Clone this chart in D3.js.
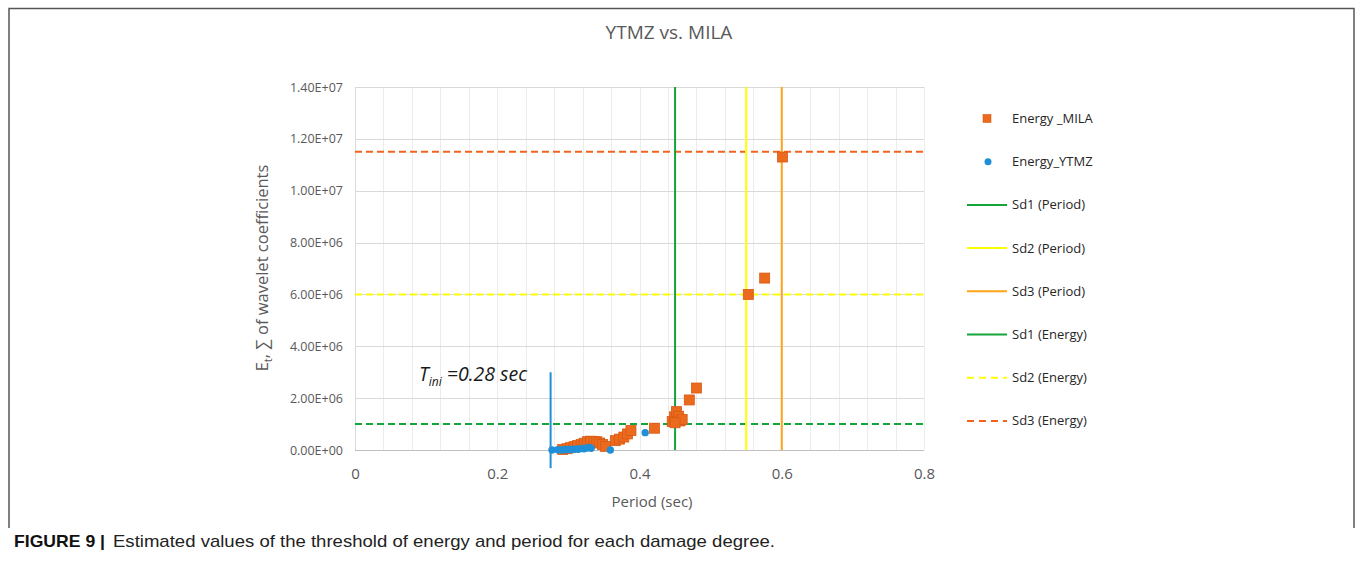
<!DOCTYPE html>
<html>
<head>
<meta charset="utf-8">
<script src="https://cdn.jsdelivr.net/npm/d3@7"></script>
<style>
  body { margin: 0; background: #fff; }
  svg { display: block; font-family: "Open Sans", sans-serif; }
  .grid line { shape-rendering: crispEdges; }
  .tick text { fill: #595959; }
</style>
</head>
<body>
<svg width="1355" height="575"></svg>
<script>
// MILA energy points (period sec, energy)
const milaPeriod = [0.292, 0.298, 0.303, 0.308, 0.313, 0.318, 0.322, 0.327, 0.331, 0.336, 0.340, 0.344, 0.348, 0.352,
  0.366, 0.372, 0.378, 0.383, 0.388, 0.421,
  0.446, 0.449, 0.452, 0.455, 0.457, 0.460, 0.450,
  0.470, 0.480, 0.553, 0.576, 0.601];
const milaEnergy = [0.02e6, 0.05e6, 0.09e6, 0.13e6, 0.17e6, 0.21e6, 0.26e6, 0.32e6, 0.34e6, 0.33e6, 0.32e6, 0.27e6, 0.21e6, 0.14e6,
  0.36e6, 0.42e6, 0.50e6, 0.62e6, 0.75e6, 0.84e6,
  1.10e6, 1.28e6, 1.48e6, 1.30e6, 1.12e6, 1.18e6, 1.05e6,
  1.93e6, 2.39e6, 6.0e6, 6.63e6, 1.13e7];

// YTMZ energy points
const ytmzPeriod = [0.277, 0.285, 0.290, 0.294, 0.298, 0.302, 0.306, 0.310, 0.314, 0.318, 0.322, 0.326, 0.329, 0.332, 0.359, 0.408];
const ytmzEnergy = [0.0, 0.01e6, 0.0, 0.02e6, 0.01e6, 0.03e6, 0.02e6, 0.04e6, 0.03e6, 0.06e6, 0.05e6, 0.08e6, 0.10e6, 0.07e6, 0.0, 0.67e6];

// damage thresholds
const limitNames = ["Sd1", "Sd2", "Sd3"];
const periodLimits = [0.45, 0.55, 0.6];
const energyLimits = [1.0e6, 6.0e6, 1.15e7];
const periodColors = ["#14a53a", "#ffff00", "#ffa31a"];
const energyColors = ["#14a53a", "#ffff00", "#f2641e"];

const tIni = 0.275;
const tIniSpan = [-0.7e6, 3.0e6];

const xTicks = [0, 0.2, 0.4, 0.6, 0.8];
const yTicks = [0, 2e6, 4e6, 6e6, 8e6, 1e7, 1.2e7, 1.4e7];

const legendNames = ["Energy _MILA", "Energy_YTMZ", "Sd1 (Period)", "Sd2 (Period)", "Sd3 (Period)",
  "Sd1 (Energy)", "Sd2 (Energy)", "Sd3 (Energy)"];

const svg = d3.select("svg");
const plotLeft = 355, plotRight = 924, plotTop = 87, plotBottom = 450;

const x = d3.scaleLinear().domain([0, 0.8]).range([plotLeft, plotRight]);
const y = d3.scaleLinear().domain([0, 1.4e7]).range([plotBottom, plotTop]);

function fmtE(v) {
  const parts = v.toExponential(2).split("e");
  const n = +parts[1];
  return parts[0] + "E" + (n < 0 ? "-" : "+") + String(Math.abs(n)).padStart(2, "0");
}

// frame around figure
svg.append("path")
  .attr("d", "M9,528 V8.5 H1354 V528")
  .attr("fill", "none")
  .attr("stroke", "#555")
  .attr("stroke-width", 1.5);

// title
svg.append("text")
  .attr("x", 669).attr("y", 39)
  .attr("text-anchor", "middle")
  .attr("font-size", 19)
  .attr("fill", "#595959")
  .text("YTMZ vs. MILA");

// vertical grid
svg.append("g")
  .attr("class", "grid")
  .selectAll("line")
  .data(d3.range(1, 21).map(function (i) { return i * 0.04; }))
  .join("line")
  .attr("x1", function (d) { return Math.round(x(d)) + 0.5; })
  .attr("x2", function (d) { return Math.round(x(d)) + 0.5; })
  .attr("y1", plotTop).attr("y2", plotBottom)
  .attr("stroke", "#ececec");

// horizontal grid
svg.append("g")
  .attr("class", "grid")
  .selectAll("line")
  .data(yTicks)
  .join("line")
  .attr("x1", plotLeft).attr("x2", plotRight)
  .attr("y1", function (d) { return Math.round(y(d)) + 0.5; })
  .attr("y2", function (d) { return Math.round(y(d)) + 0.5; })
  .attr("stroke", function (d) { return d === 0 ? "#bfbfbf" : "#d9d9d9"; })
  .attr("stroke-width", 1.5);

// left axis line
svg.append("line")
  .attr("x1", plotLeft + 0.5).attr("x2", plotLeft + 0.5)
  .attr("y1", plotTop).attr("y2", plotBottom)
  .attr("stroke", "#d9d9d9");

// axes
const yAxis = svg.append("g")
  .attr("transform", "translate(" + plotLeft + ",0)")
  .call(d3.axisLeft(y).tickValues(yTicks).tickFormat(fmtE).tickSize(0).tickPadding(12));
yAxis.select(".domain").remove();
yAxis.selectAll("text").attr("font-size", 12.5).attr("font-family", "Open Sans");

const xAxis = svg.append("g")
  .attr("transform", "translate(0," + plotBottom + ")")
  .call(d3.axisBottom(x).tickValues(xTicks).tickFormat(function (d) { return String(+d.toFixed(1)); }).tickSize(0).tickPadding(18));
xAxis.select(".domain").remove();
xAxis.selectAll("text").attr("font-size", 15).attr("font-family", "Open Sans");

svg.append("text")
  .attr("x", 652).attr("y", 507)
  .attr("text-anchor", "middle")
  .attr("font-size", 15)
  .attr("fill", "#595959")
  .text("Period (sec)");

const yTitle = svg.append("text")
  .attr("transform", "translate(268,268) rotate(-90)")
  .attr("text-anchor", "middle")
  .attr("font-size", 16.5)
  .attr("fill", "#595959");
yTitle.append("tspan").text("E");
yTitle.append("tspan").attr("font-size", 11).attr("dy", 4).text("t");
yTitle.append("tspan").attr("dy", -4).text(", \u2211 of wavelet coefficients");

// energy threshold lines (dashed)
svg.append("g")
  .selectAll("line")
  .data(energyLimits)
  .join("line")
  .attr("x1", plotLeft).attr("x2", plotRight)
  .attr("y1", function (d) { return y(d); })
  .attr("y2", function (d) { return y(d); })
  .attr("stroke", function (d, i) { return energyColors[i]; })
  .attr("stroke-width", 2)
  .attr("stroke-dasharray", "7,4");

// period threshold lines
svg.append("g")
  .selectAll("line")
  .data(periodLimits)
  .join("line")
  .attr("x1", function (d) { return x(d); })
  .attr("x2", function (d) { return x(d); })
  .attr("y1", plotTop).attr("y2", plotBottom)
  .attr("stroke", function (d, i) { return periodColors[i]; })
  .attr("stroke-width", 2);

// T_ini marker
svg.append("line")
  .attr("x1", x(tIni)).attr("x2", x(tIni))
  .attr("y1", y(tIniSpan[0])).attr("y2", y(tIniSpan[1]))
  .attr("stroke", "#1f8fd8")
  .attr("stroke-width", 2);

const tLabel = svg.append("text")
  .attr("x", 419).attr("y", 381)
  .attr("font-size", 19.5)
  .attr("font-style", "italic")
  .attr("fill", "#1a1a1a");
tLabel.append("tspan").text("T");
tLabel.append("tspan").attr("font-size", 12).attr("dy", 5).text("ini");
tLabel.append("tspan").attr("dy", -5).text(" =0.28 sec");

// MILA squares
svg.append("g")
  .selectAll("rect")
  .data(milaPeriod)
  .join("rect")
  .attr("x", function (d) { return x(d) - 5; })
  .attr("y", function (d, i) { return y(milaEnergy[i]) - 5; })
  .attr("width", 10).attr("height", 10)
  .attr("fill", "#ec6a1d")
  .attr("stroke", "#d85a14")
  .attr("stroke-width", 0.8);

// YTMZ circles
svg.append("g")
  .selectAll("circle")
  .data(ytmzPeriod)
  .join("circle")
  .attr("cx", function (d) { return x(d); })
  .attr("cy", function (d, i) { return y(ytmzEnergy[i]); })
  .attr("r", 3.7)
  .attr("fill", "#1f8fd8");

// legend
const lgX = 967, lgY = 118.5, lgStep = 43.2;
const legend = svg.append("g")
  .selectAll("g")
  .data(legendNames)
  .join("g")
  .attr("transform", function (d, i) { return "translate(" + lgX + "," + (lgY + i * lgStep) + ")"; });

legend.append("text")
  .attr("x", 45).attr("dy", "0.35em")
  .attr("font-size", 13)
  .attr("fill", "#262626")
  .text(function (d) { return d; });

legend.filter(function (d, i) { return i === 0; })
  .append("rect")
  .attr("x", 16).attr("y", -4).attr("width", 8).attr("height", 8)
  .attr("fill", "#ec6a1d").attr("stroke", "#d85a14").attr("stroke-width", 0.6);

legend.filter(function (d, i) { return i === 1; })
  .append("circle")
  .attr("cx", 21).attr("r", 3.5)
  .attr("fill", "#1f8fd8");

legend.filter(function (d, i) { return i >= 2; })
  .append("line")
  .attr("x1", 0).attr("x2", 40)
  .attr("stroke", function (d, i) {
    return i < 3 ? periodColors[i] : energyColors[i - 3];
  })
  .attr("stroke-width", 2)
  .attr("stroke-dasharray", function (d, i) { return i >= 4 ? "7,5" : null; });

// caption
svg.append("text")
  .attr("x", 14).attr("y", 547)
  .attr("font-family", "Liberation Sans, Arial, sans-serif")
  .attr("font-size", 17)
  .attr("font-weight", "bold")
  .attr("fill", "#111")
  .attr("textLength", 91)
  .attr("lengthAdjust", "spacingAndGlyphs")
  .text("FIGURE 9 |");
svg.append("text")
  .attr("x", 113).attr("y", 547)
  .attr("font-family", "Liberation Sans, Arial, sans-serif")
  .attr("font-size", 17)
  .attr("fill", "#222")
  .attr("textLength", 662)
  .attr("lengthAdjust", "spacingAndGlyphs")
  .text("Estimated values of the threshold of energy and period for each damage degree.");
</script>
</body>
</html>
